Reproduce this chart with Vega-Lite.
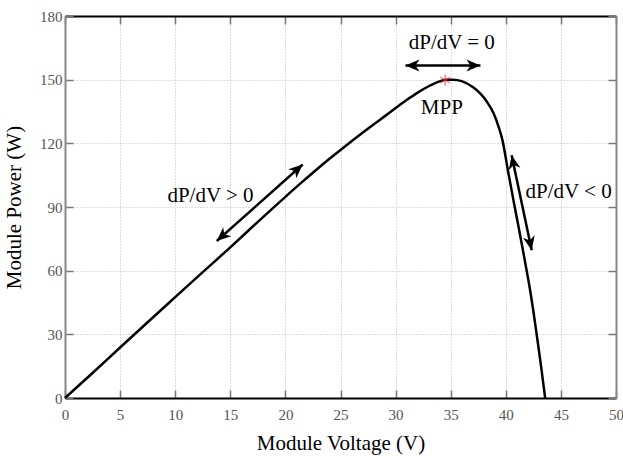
{
  "$schema": "https://vega.github.io/schema/vega-lite/v6.json",
  "width": 551,
  "height": 382,
  "autosize": "none",
  "padding": {"left": 65, "top": 16, "right": 7, "bottom": 58},
  "background": "white",
  "config": {
    "view": {"stroke": null},
    "font": "Liberation Serif",
    "axis": {"labelFont": "Liberation Serif", "titleFont": "Liberation Serif"}
  },
  "datasets": {
    "curve": [
      {"V": 0, "P": 0}, {"V": 2.5, "P": 11.8}, {"V": 5, "P": 23.8}, {"V": 7.5, "P": 35.7},
      {"V": 10, "P": 47.5}, {"V": 12.5, "P": 59.3}, {"V": 15, "P": 71}, {"V": 17.5, "P": 83},
      {"V": 20, "P": 94.8}, {"V": 21.5, "P": 101.7}, {"V": 23, "P": 108.4}, {"V": 24, "P": 112.7},
      {"V": 25, "P": 116.9}, {"V": 26, "P": 121}, {"V": 27, "P": 125}, {"V": 28, "P": 128.9},
      {"V": 29, "P": 132.7}, {"V": 30, "P": 136.6}, {"V": 31, "P": 140.4}, {"V": 32, "P": 143.9},
      {"V": 33, "P": 146.9}, {"V": 34, "P": 149.2}, {"V": 34.6, "P": 150}, {"V": 35.2, "P": 150},
      {"V": 36, "P": 149.3}, {"V": 37, "P": 146.5}, {"V": 37.7, "P": 143.4}, {"V": 38.3, "P": 139.5},
      {"V": 38.9, "P": 134}, {"V": 39.3, "P": 128.5}, {"V": 39.7, "P": 121.4}, {"V": 40.2, "P": 107},
      {"V": 40.7, "P": 93}, {"V": 41.2, "P": 79.5}, {"V": 41.7, "P": 65.5}, {"V": 42.2, "P": 51},
      {"V": 42.5, "P": 41}, {"V": 42.8, "P": 30}, {"V": 43.2, "P": 15}, {"V": 43.57, "P": 0}
    ],
    "mpp": [{"V": 34.5, "P": 149.8}],
    "labels": [
      {"text": "dP/dV = 0", "V": 35.1, "P": 167.5},
      {"text": "MPP", "V": 34.2, "P": 136.5},
      {"text": "dP/dV > 0", "V": 13.2, "P": 95.3},
      {"text": "dP/dV < 0", "V": 45.7, "P": 97.2}
    ],
    "segments": [
      {"id": "zero", "V1": 30.9, "P1": 156.7, "V2": 37.7, "P2": 156.7},
      {"id": "pos", "V1": 13.77, "P1": 74.0, "V2": 21.57, "P2": 110.0},
      {"id": "neg", "V1": 40.53, "P1": 114.4, "V2": 42.35, "P2": 69.6}
    ],
    "heads": [
      {"id": "zero-right", "V": 37.7, "P": 156.7},
      {"id": "zero-left", "V": 30.9, "P": 156.7},
      {"id": "pos-up", "V": 21.57, "P": 110.0},
      {"id": "pos-down", "V": 13.77, "P": 74.0},
      {"id": "neg-up", "V": 40.53, "P": 114.4},
      {"id": "neg-down", "V": 42.35, "P": 69.6}
    ]
  },
  "resolve": {"axis": {"x": "independent", "y": "independent"}},
  "layer": [
    {
      "data": {"name": "curve"},
      "mark": {"type": "line", "color": "black", "strokeWidth": 2.5, "interpolate": "monotone"},
      "encoding": {
        "x": {
          "field": "V", "type": "quantitative",
          "scale": {"domain": [0, 50], "nice": false, "zero": false},
          "axis": {
            "orient": "bottom", "values": [0, 5, 10, 15, 20, 25, 30, 35, 40, 45, 50],
            "title": "Module Voltage (V)", "titleFontSize": 21, "titleFontWeight": "normal", "titleColor": "black",
            "titlePadding": 10,
            "labelFontSize": 15, "labelColor": "#555", "labelPadding": 17, "labelFlush": false,
            "ticks": true, "tickSize": -8, "tickColor": "#777", "tickWidth": 1.5,
            "domainColor": "black", "domainWidth": 2,
            "grid": true, "gridColor": "#bbb", "gridDash": [1, 2], "gridWidth": 1
          }
        },
        "y": {
          "field": "P", "type": "quantitative",
          "scale": {"domain": [0, 180], "nice": false, "zero": false},
          "axis": {
            "orient": "left", "values": [0, 30, 60, 90, 120, 150, 180],
            "title": "Module Power (W)", "titleFontSize": 21, "titleFontWeight": "normal", "titleColor": "black",
            "titlePadding": 15,
            "labelFontSize": 15, "labelColor": "#555", "labelPadding": 11, "labelFlush": false,
            "ticks": true, "tickSize": -8, "tickColor": "#777", "tickWidth": 1.5,
            "domainColor": "#888", "domainWidth": 2,
            "grid": true, "gridColor": "#bbb", "gridDash": [1, 2], "gridWidth": 1
          }
        }
      }
    },
    {
      "data": {"name": "mpp"},
      "mark": {"type": "point", "shape": "M0,-1L0,1M-0.87,-0.5L0.87,0.5M-0.87,0.5L0.87,-0.5", "filled": false, "stroke": "#ff3333", "strokeWidth": 1.3, "size": 130},
      "encoding": {
        "x": {"field": "V", "type": "quantitative",
          "axis": {"orient": "top", "values": [0, 5, 10, 15, 20, 25, 30, 35, 40, 45, 50], "labels": false, "title": null, "grid": false,
            "ticks": true, "tickSize": -8, "tickColor": "#777", "tickWidth": 1.5,
            "domainColor": "black", "domainWidth": 2}},
        "y": {"field": "P", "type": "quantitative",
          "axis": {"orient": "right", "values": [0, 30, 60, 90, 120, 150, 180], "labels": false, "title": null, "grid": false,
            "ticks": true, "tickSize": -8, "tickColor": "#777", "tickWidth": 1.5,
            "domainColor": "#888", "domainWidth": 2}}
      }
    },
    {
      "data": {"name": "labels"},
      "mark": {"type": "text", "font": "Liberation Serif", "fontSize": 21, "color": "black", "align": "center", "baseline": "middle"},
      "encoding": {
        "x": {"field": "V", "type": "quantitative", "axis": null},
        "y": {"field": "P", "type": "quantitative", "axis": null},
        "text": {"field": "text", "type": "nominal"}
      }
    },
    {
      "data": {"name": "segments"},
      "mark": {"type": "rule", "color": "black", "strokeWidth": 2.5},
      "encoding": {
        "x": {"field": "V1", "type": "quantitative", "axis": null},
        "y": {"field": "P1", "type": "quantitative", "axis": null},
        "x2": {"field": "V2"},
        "y2": {"field": "P2"}
      }
    },
    {
      "data": {"name": "heads"},
      "transform": [{"filter": "datum.id == 'zero-right'"}],
      "mark": {"type": "point", "shape": "M0,0L-1.2,2.8L0,2L1.2,2.8Z", "filled": true, "color": "black", "opacity": 1, "size": 100, "angle": 90},
      "encoding": {"x": {"field": "V", "type": "quantitative", "axis": null}, "y": {"field": "P", "type": "quantitative", "axis": null}}
    },
    {
      "data": {"name": "heads"},
      "transform": [{"filter": "datum.id == 'zero-left'"}],
      "mark": {"type": "point", "shape": "M0,0L-1.2,2.8L0,2L1.2,2.8Z", "filled": true, "color": "black", "opacity": 1, "size": 100, "angle": 270},
      "encoding": {"x": {"field": "V", "type": "quantitative", "axis": null}, "y": {"field": "P", "type": "quantitative", "axis": null}}
    },
    {
      "data": {"name": "heads"},
      "transform": [{"filter": "datum.id == 'pos-up'"}],
      "mark": {"type": "point", "shape": "M0,0L-1.2,2.8L0,2L1.2,2.8Z", "filled": true, "color": "black", "opacity": 1, "size": 100, "angle": 48.4},
      "encoding": {"x": {"field": "V", "type": "quantitative", "axis": null}, "y": {"field": "P", "type": "quantitative", "axis": null}}
    },
    {
      "data": {"name": "heads"},
      "transform": [{"filter": "datum.id == 'pos-down'"}],
      "mark": {"type": "point", "shape": "M0,0L-1.2,2.8L0,2L1.2,2.8Z", "filled": true, "color": "black", "opacity": 1, "size": 100, "angle": 228.4},
      "encoding": {"x": {"field": "V", "type": "quantitative", "axis": null}, "y": {"field": "P", "type": "quantitative", "axis": null}}
    },
    {
      "data": {"name": "heads"},
      "transform": [{"filter": "datum.id == 'neg-up'"}],
      "mark": {"type": "point", "shape": "M0,0L-1.2,2.8L0,2L1.2,2.8Z", "filled": true, "color": "black", "opacity": 1, "size": 100, "angle": 348.1},
      "encoding": {"x": {"field": "V", "type": "quantitative", "axis": null}, "y": {"field": "P", "type": "quantitative", "axis": null}}
    },
    {
      "data": {"name": "heads"},
      "transform": [{"filter": "datum.id == 'neg-down'"}],
      "mark": {"type": "point", "shape": "M0,0L-1.2,2.8L0,2L1.2,2.8Z", "filled": true, "color": "black", "opacity": 1, "size": 100, "angle": 168.1},
      "encoding": {"x": {"field": "V", "type": "quantitative", "axis": null}, "y": {"field": "P", "type": "quantitative", "axis": null}}
    }
  ]
}
